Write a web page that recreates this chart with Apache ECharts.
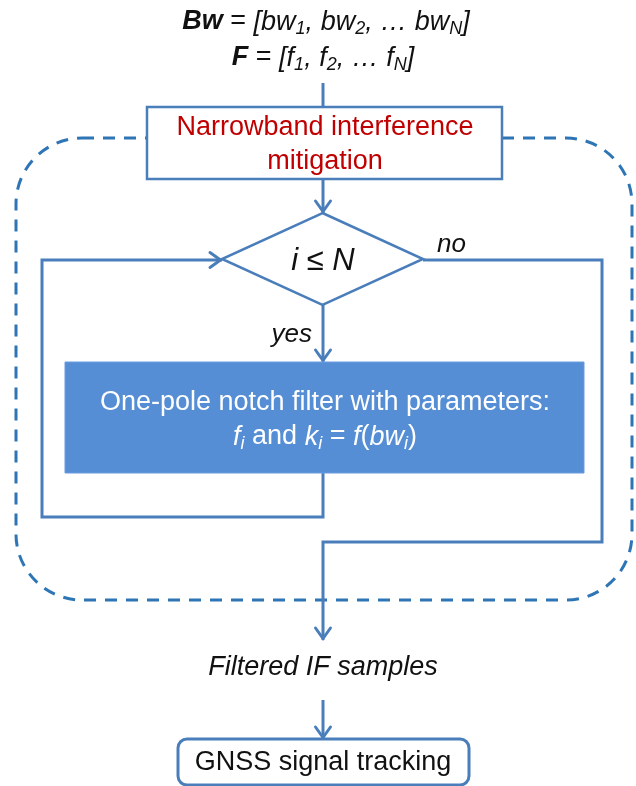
<!DOCTYPE html>
<html><head><meta charset="utf-8">
<script src="https://cdn.jsdelivr.net/npm/echarts@6/dist/echarts.min.js"></script>
<style>html,body{margin:0;padding:0;background:#fff}#c{width:636px;height:786px}</style>
</head><body><div id="c"></div>
<script>
// ---------------- content ----------------
const inputRich = [
  '{b|Bw}{n| = }{i|[bw}{s|1}{i|, bw}{s|2}{i|, … bw}{s|N}{i|]}',
  '{b|F}{n| = }{i|[f}{s|1}{i|, f}{s|2}{i|, … f}{s|N}{i|]}'
];
const titleLines = ['Narrowband interference', 'mitigation'];
const conditionLabel = 'i ≤ N';
const branchLabels = ['yes', 'no'];
const filterLines = ['{n|One-pole notch filter with parameters:}',
  '{i|f}{s|i}{n| and }{i|k}{s|i}{n| = }{i|f}{n|(}{i|bw}{s|i}{n|)}'];
const outputLabel = 'Filtered IF samples';
const trackingLabel = 'GNSS signal tracking';

// ---------------- layout (diagram units) ----------------
const nodeKinds = ['region', 'box', 'diamond', 'filled', 'rounded'];
const nodeX0 = [16, 147, 222, 65, 178];
const nodeY0 = [138, 107, 213, 362, 739];
const nodeX1 = [632, 502, 423, 584, 469];
const nodeY1 = [600, 179, 305, 473, 785];

const connectors = [
  [[323, 83], [323, 107]],
  [[323, 179], [323, 213]],
  [[323, 305], [323, 362]],
  [[323, 473], [323, 517], [42, 517], [42, 260], [222, 260]],
  [[423, 260], [602, 260], [602, 542], [323, 542], [323, 640]],
  [[323, 700], [323, 739]]
];
const connectorArrow = [false, true, true, true, true, true];

// text anchors
const textX = [326, 323, 325, 325, 323, 312, 437, 325, 325, 323, 323];
const textY = [22, 58, 128, 162, 261, 335, 245, 403, 437, 667, 763];

// ---------------- styles ----------------
const FONT = '"Liberation Sans", Arial, sans-serif';
const LINE = '#4A7EBB';
const DASH = '#2E75B6';
const FILL = '#558ED5';
const RED = '#C00000';
const INK = '#111111';

function richSet(color) {
  return {
    b: { fontFamily: FONT, fontSize: 27, fontWeight: 'bold', fontStyle: 'italic', fill: color, color: color },
    i: { fontFamily: FONT, fontSize: 27, fontStyle: 'italic', fill: color, color: color },
    n: { fontFamily: FONT, fontSize: 27, fill: color, color: color },
    s: { fontFamily: FONT, fontSize: 18, fontStyle: 'italic', fill: color, color: color, padding: [14, 0, 0, 0] }
  };
}

const textItems = [
  { t: inputRich[0], rich: richSet(INK) },
  { t: inputRich[1], rich: richSet(INK) },
  { t: titleLines[0], font: '27px ' + FONT, fill: RED },
  { t: titleLines[1], font: '27px ' + FONT, fill: RED },
  { t: conditionLabel, font: 'italic 31px ' + FONT, fill: INK },
  { t: branchLabels[0], font: 'italic 26px ' + FONT, fill: INK, align: 'right' },
  { t: branchLabels[1], font: 'italic 26px ' + FONT, fill: INK, align: 'left' },
  { t: filterLines[0], rich: richSet('#ffffff') },
  { t: filterLines[1], rich: richSet('#ffffff') },
  { t: outputLabel, font: 'italic 27px ' + FONT, fill: INK },
  { t: trackingLabel, font: '27px ' + FONT, fill: INK }
];

const chart = echarts.init(document.getElementById('c'), null, { renderer: 'canvas' });

function nodeRender(params, api) {
  const kind = nodeKinds[params.dataIndex];
  const p0 = api.coord([api.value(0), api.value(1)]);
  const p1 = api.coord([api.value(2), api.value(3)]);
  const x = Math.min(p0[0], p1[0]), y = Math.min(p0[1], p1[1]);
  const w = Math.abs(p1[0] - p0[0]), h = Math.abs(p1[1] - p0[1]);
  if (kind === 'region') {
    return { type: 'rect', shape: { x, y, width: w, height: h, r: 66 },
      style: { fill: 'none', stroke: DASH, lineWidth: 3, lineDash: [12, 9] } };
  }
  if (kind === 'box') {
    return { type: 'rect', shape: { x, y, width: w, height: h },
      style: { fill: '#fff', stroke: LINE, lineWidth: 2.5 } };
  }
  if (kind === 'diamond') {
    const cx = x + w / 2, cy = y + h / 2;
    return { type: 'polygon', shape: { points: [[cx, y], [x + w, cy], [cx, y + h], [x, cy]] },
      style: { fill: '#fff', stroke: LINE, lineWidth: 2.5 } };
  }
  if (kind === 'filled') {
    return { type: 'rect', shape: { x, y, width: w, height: h },
      style: { fill: FILL, stroke: '#6a9be0', lineWidth: 1 } };
  }
  return { type: 'rect', shape: { x, y, width: w, height: h, r: 9 },
    style: { fill: '#fff', stroke: LINE, lineWidth: 3 } };
}

function connRender(params, api) {
  const pts = connectors[params.dataIndex].map(p => api.coord(p));
  const children = [{ type: 'polyline', shape: { points: pts },
    style: { stroke: LINE, lineWidth: 3, fill: 'none', lineJoin: 'miter' } }];
  if (connectorArrow[params.dataIndex]) {
    const a = pts[pts.length - 2], b = pts[pts.length - 1];
    const dx = b[0] - a[0], dy = b[1] - a[1];
    const L = Math.hypot(dx, dy), ux = dx / L, uy = dy / L;
    const len = 12, half = 7.5;
    const bx = b[0] - ux * len, by = b[1] - uy * len;
    children.push({ type: 'polyline', shape: { points: [
      [bx - uy * half, by + ux * half], [b[0] - ux * 1.5, b[1] - uy * 1.5], [bx + uy * half, by - ux * half]] },
      style: { stroke: LINE, lineWidth: 3, fill: 'none', lineJoin: 'miter', lineCap: 'round' } });
  }
  return { type: 'group', children };
}

function textRender(params, api) {
  const it = textItems[params.dataIndex];
  const p = api.coord([api.value(0), api.value(1)]);
  const style = { text: it.t, x: p[0], y: p[1], align: it.align || 'center', verticalAlign: 'middle' };
  if (it.rich) { style.rich = it.rich; style.font = '27px ' + FONT; style.fill = it.rich.n.fill; }
  else { style.font = it.font; style.fill = it.fill; }
  return { type: 'text', style };
}

chart.setOption({
  animation: false,
  backgroundColor: '#ffffff',
  grid: { left: 0, right: 0, top: 0, bottom: 0 },
  xAxis: { type: 'value', min: 0, max: 636, show: false },
  yAxis: { type: 'value', min: 0, max: 786, inverse: true, show: false },
  series: [
    { type: 'custom', clip: false, z: 1, renderItem: (p, a) => nodeKinds[p.dataIndex] === 'region' ? nodeRender(p, a) : null,
      data: nodeKinds.map((k, i) => [nodeX0[i], nodeY0[i], nodeX1[i], nodeY1[i]]) },
    { type: 'custom', clip: false, z: 2, renderItem: connRender,
      data: connectors.map(c => [c[0][0], c[0][1]]) },
    { type: 'custom', clip: false, z: 3, renderItem: (p, a) => nodeKinds[p.dataIndex] !== 'region' ? nodeRender(p, a) : null,
      data: nodeKinds.map((k, i) => [nodeX0[i], nodeY0[i], nodeX1[i], nodeY1[i]]) },
    { type: 'custom', clip: false, z: 4, renderItem: textRender,
      data: textItems.map((t, i) => [textX[i], textY[i]]) }
  ]
});
</script></body></html>
